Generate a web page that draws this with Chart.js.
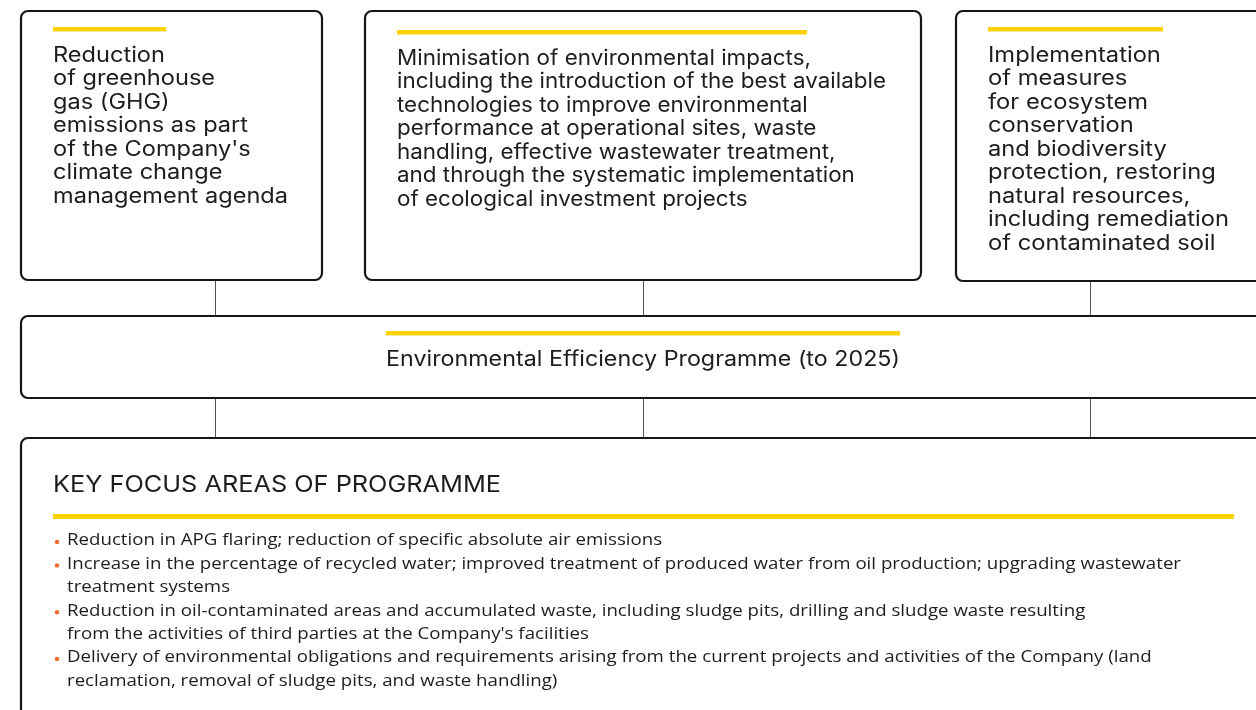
<!DOCTYPE html>
<html>
<head>
<meta charset="utf-8">
<script src="https://cdn.jsdelivr.net/npm/chart.js@4.4.1/dist/chart.umd.min.js"></script>
<style>
  html, body { margin: 0; padding: 0; background: #fff; }
  #wrap { width: 1256px; height: 710px; position: relative; }
</style>
</head>
<body>
<div id="wrap"><canvas id="myChart"></canvas></div>
<script>
// texts of the three goal boxes (line breaks as in the picture)
const goalBoxLines = [
    ["Reduction", "of greenhouse", "gas (GHG)", "emissions as part", "of the Company's", "climate change", "management agenda"],
    ["Minimisation of environmental impacts,", "including the introduction of the best available",
        "technologies to improve environmental", "performance at operational sites, waste",
        "handling, effective wastewater treatment,", "and through the systematic implementation",
        "of ecological investment projects"],
    ["Implementation", "of measures", "for ecosystem", "conservation", "and biodiversity",
        "protection, restoring", "natural resources,", "including remediation", "of contaminated soil"]
]
const programmeTitle = "Environmental Efficiency Programme (to 2025)"
const focusTitle = "KEY FOCUS AREAS OF PROGRAMME"
const focusBullets = [
    ["Reduction in APG flaring; reduction of specific absolute air emissions"],
    ["Increase in the percentage of recycled water; improved treatment of produced water from oil production; upgrading wastewater",
        "treatment systems"],
    ["Reduction in oil-contaminated areas and accumulated waste, including sludge pits, drilling and sludge waste resulting",
        "from the activities of third parties at the Company's facilities"],
    ["Delivery of environmental obligations and requirements arising from the current projects and activities of the Company (land",
        "reclamation, removal of sludge pits, and waste handling)"]
]

// layout (in the 1256 x 710 value space of the hidden scales)
// fitW = width the widest line takes in the reference
const goalBoxes = [
    { x0: 21, x1: 322, y0: 11, y1: 280, barX1: 166, barY: 27, textY: 55.5, link: 215, fitW: 235 },
    { x0: 365, x1: 921, y0: 11, y1: 280, barX1: 807, barY: 30, textY: 58.5, link: 643, fitW: 489 },
    { x0: 956, x1: 1270, y0: 11, y1: 281, barX1: 1163, barY: 27, textY: 55.5, link: 1090, fitW: 241 }
]
const yellow = "#ffd200"
const ink = "#1d1d1b"
const orange = "#ef6a2b"
const topFont = "21px Inter"
const listFont = "17px 'Open Sans'"

const canvas = document.querySelector("#myChart")

function roundBox(ctx, x0, y0, x1, y1, r) {
    ctx.beginPath()
    ctx.moveTo(x0 + r, y0)
    ctx.lineTo(x1 - r, y0)
    ctx.arcTo(x1, y0, x1, y0 + r, r)
    ctx.lineTo(x1, y1 - r)
    ctx.arcTo(x1, y1, x1 - r, y1, r)
    ctx.lineTo(x0 + r, y1)
    ctx.arcTo(x0, y1, x0, y1 - r, r)
    ctx.lineTo(x0, y0 + r)
    ctx.arcTo(x0, y0, x0 + r, y0, r)
    ctx.closePath()
    ctx.fillStyle = "#fff"
    ctx.fill()
    ctx.lineWidth = 2.2
    ctx.strokeStyle = "#161616"
    ctx.stroke()
}

// draws lines of text squeezed/stretched horizontally so the widest one spans fitW
function fittedText(ctx, lines, x, ys, font, fitW, align) {
    ctx.font = font
    const widest = Math.max(...lines.map((l) => ctx.measureText(l).width))
    const k = fitW / widest
    ctx.save()
    ctx.translate(x, 0)
    ctx.scale(k, 1)
    ctx.fillStyle = ink
    ctx.textAlign = align || "left"
    ctx.textBaseline = "middle"
    lines.forEach((l, i) => ctx.fillText(l, 0, ys[i]))
    ctx.restore()
    return k
}

const diagramPlugin = {
    id: "diagram",
    afterDraw(chart) {
        const ctx = chart.ctx
        const sx = chart.scales.x
        const sy = chart.scales.y
        const px = (v) => sx.getPixelForValue(v)
        const py = (v) => sy.getPixelForValue(v)
        ctx.save()

        // connectors
        ctx.strokeStyle = "#555"
        ctx.lineWidth = 1
        goalBoxes.forEach((b) => {
            ctx.beginPath()
            ctx.moveTo(px(b.link) + 0.5, py(b.y1))
            ctx.lineTo(px(b.link) + 0.5, py(438))
            ctx.stroke()
        })

        // goal boxes
        goalBoxes.forEach((b, i) => {
            roundBox(ctx, px(b.x0), py(b.y0), px(b.x1), py(b.y1), 7)
            ctx.fillStyle = yellow
            ctx.fillRect(px(b.x0 + 32), py(b.barY), px(b.barX1) - px(b.x0 + 32), 4.5)
            const ys = goalBoxLines[i].map((_, j) => py(b.textY + j * 23.5))
            fittedText(ctx, goalBoxLines[i], px(b.x0 + 32), ys, topFont, px(b.x0 + 32 + b.fitW) - px(b.x0 + 32))
        })

        // programme box
        roundBox(ctx, px(21), py(316), px(1270), py(398), 7)
        ctx.fillStyle = yellow
        ctx.fillRect(px(386), py(331), px(900) - px(386), 4.5)
        fittedText(ctx, [programmeTitle], px(643), [py(360)], "21px Inter", px(900) - px(386), "center")

        // focus areas box
        roundBox(ctx, px(21), py(438), px(1270), py(730), 7)
        fittedText(ctx, [focusTitle], px(53), [py(485)], "23px Inter", px(501) - px(53))
        ctx.fillStyle = yellow
        ctx.fillRect(px(53), py(514), px(1234) - px(53), 5)

        let row = 0
        const listLines = []
        const listYs = []
        focusBullets.forEach((item) => {
            ctx.fillStyle = orange
            ctx.beginPath()
            ctx.arc(px(57), py(541 + row * 23.4) + 1, 2.2, 0, Math.PI * 2)
            ctx.fill()
            item.forEach((line) => {
                listLines.push(line)
                listYs.push(py(540.5 + row * 23.4))
                row++
            })
        })
        // widest list line (bullet 2, first line) ends at x=1181 in the reference
        fittedText(ctx, listLines, px(67), listYs, listFont, px(1181) - px(67))
        ctx.restore()
    }
}

const config = {
    type: "scatter",
    data: { datasets: [] },
    options: {
        responsive: true,
        maintainAspectRatio: false,
        animation: false,
        devicePixelRatio: 1,
        layout: { padding: 0 },
        plugins: { legend: { display: false }, tooltip: { enabled: false } },
        scales: {
            x: { type: "linear", min: 0, max: 1256, display: false },
            y: { type: "linear", min: 0, max: 710, reverse: true, display: false }
        }
    },
    plugins: [diagramPlugin]
}
new Chart(canvas, config)
</script>
</body>
</html>
